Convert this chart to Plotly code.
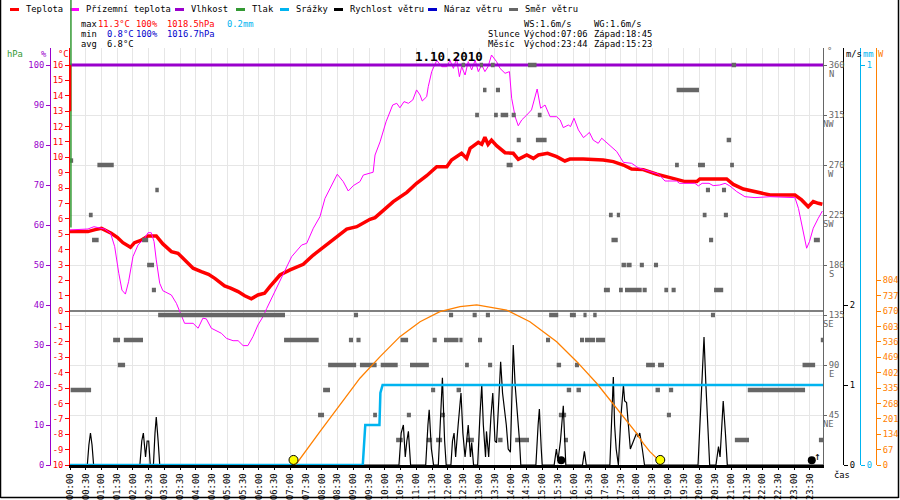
import plotly.graph_objects as go

# ---------------- data (hours of the day / values) ----------------
temp_hours = [0.0, 0.57, 0.8, 1.0, 1.31, 1.5, 1.68, 1.92, 2.05, 2.25, 2.48, 2.74, 2.95, 3.22, 3.43, 3.64,
              3.91, 4.17, 4.4, 4.6, 4.91, 5.1, 5.34, 5.55, 5.76, 5.97, 6.18, 6.35, 6.67, 6.99, 7.41, 7.73,
              8.15, 8.58, 8.79, 9.11, 9.53, 9.69, 9.95, 10.27, 10.7, 11.01, 11.33, 11.65, 11.97, 12.12,
              12.44, 12.6, 12.71, 12.97, 13.08, 13.18, 13.28, 13.39, 13.55, 13.82, 14.08, 14.24, 14.51,
              14.72, 14.88, 15.17, 15.46, 15.72, 15.88, 16.3, 16.94, 17.26, 17.58, 17.84, 18.21, 18.64,
              19.06, 19.27, 19.54, 19.91, 20.01, 20.86, 21.07, 21.39, 21.81, 22.24, 23.03, 23.24, 23.45,
              23.61, 23.77, 23.9]
temp_values = [5.17, 5.17, 5.3, 5.38, 5.06, 4.8, 4.45, 4.15, 4.45, 4.6, 4.89, 4.89, 4.37, 3.87, 3.76, 3.33,
               2.79, 2.57, 2.4, 2.13, 1.64, 1.5, 1.27, 1.0, 0.8, 1.05, 1.16, 1.59, 2.35, 2.68, 3.04, 3.65,
               4.3, 4.95, 5.34, 5.49, 5.97, 6.08, 6.58, 7.12, 7.72, 8.31, 8.8, 9.39, 9.39, 9.83,
               10.26, 9.93, 10.58, 10.97, 10.84, 11.3, 10.84, 11.12, 10.76, 10.3, 10.26, 9.87, 10.15,
               9.93, 10.15, 10.26, 10.04, 9.76, 9.89, 9.89, 9.83, 9.72, 9.5, 9.24, 9.2, 8.9,
               8.68, 8.57, 8.42, 8.42, 8.59, 8.59, 8.24, 7.94, 7.77, 7.55, 7.55, 7.23, 6.79,
               7.12, 7.01, 6.95]

ground_hours = [0.0, 0.57, 0.76, 1.1, 1.29, 1.42, 1.55, 1.65, 1.76, 1.86, 2.0, 2.16, 2.37, 2.48, 2.58,
                2.67, 2.74, 2.85, 2.95, 3.22, 3.38, 3.52, 3.64, 3.91, 4.07, 4.22, 4.33, 4.49, 4.81, 4.97,
                5.18, 5.34, 5.5, 5.65, 5.81, 5.97, 6.13, 6.25, 6.67, 7.04, 7.36, 7.52, 7.73, 7.94, 8.1,
                8.26, 8.49, 8.68, 8.84, 9.0, 9.21, 9.32, 9.63, 9.69, 9.85, 10.04, 10.25, 10.38, 10.48, 10.61,
                10.75, 10.89, 11.01, 11.12, 11.19, 11.33, 11.38, 11.49, 11.65, 11.81, 11.97, 12.07, 12.18,
                12.28, 12.37, 12.44, 12.55, 12.65, 12.76, 12.87, 12.97, 13.08, 13.18, 13.28, 13.39, 13.55,
                13.66, 13.82, 13.96, 14.03, 14.14, 14.24, 14.35, 14.51, 14.66, 14.84, 14.95, 15.09, 15.25,
                15.46, 15.57, 15.67, 15.83, 15.9, 16.01, 16.15, 16.31, 16.41, 16.5, 16.62, 16.78, 16.89,
                17.15, 17.37, 17.58, 17.84, 18.05, 18.42, 18.7, 18.9, 19.27, 19.36, 19.85, 19.96, 20.08,
                20.3, 20.43, 20.64, 20.81, 20.96, 21.18, 21.44, 21.76, 22.24, 23.03, 23.14, 23.27, 23.4,
                23.49, 23.61, 23.77, 23.9]
ground_values = [5.28, 5.34, 5.49, 5.34, 5.06, 4.19, 2.46, 1.37, 1.11, 1.91, 3.54, 4.3, 4.73, 5.1, 5.1,
                 4.52, 3.33, 1.81, 1.33, 1.05, 0.51, -0.14, -0.79, -0.79, -1.11, -0.46, -0.5, -1.11, -1.44, -1.77,
                 -1.92, -1.92, -2.24, -2.24, -1.66, -0.9, -0.36, 0.18, 1.91, 3.54, 4.3, 4.41, 5.39, 6.14, 7.33,
                 7.99, 8.9, 8.42, 7.81, 8.16, 8.42, 8.85, 9.03, 10.15, 11.01, 12.31, 13.4, 13.51, 13.22, 13.62,
                 13.51, 13.73, 14.38, 14.05, 13.66, 13.94, 14.59, 15.57, 16.3, 15.89, 15.89, 16.3, 15.78,
                 16.43, 15.24, 15.89, 15.35, 16.22, 15.68, 16.32, 15.57, 16.0, 15.57, 15.89, 16.65, 16.22,
                 15.78, 15.46, 15.57, 13.84, 12.64, 12.05, 12.43, 12.75, 13.08, 14.44, 13.19, 13.4, 12.64,
                 12.64, 12.43, 11.93, 12.1, 12.0, 12.54, 11.78, 11.28, 11.45, 11.62, 11.12, 10.91, 11.24,
                 10.8, 10.37, 9.67, 9.61, 9.32, 9.09, 8.9, 8.46, 8.46, 8.31, 8.31, 8.14, 8.31,
                 8.31, 8.16, 8.2, 8.31, 8.14, 7.77, 7.44, 7.38, 7.44, 7.38, 6.68, 5.39, 4.09,
                 4.52, 5.39, 6.04, 6.51]

humidity_hours = [0.0, 23.92]
humidity_values = [100, 100]

precip_hours = [0.0, 9.30, 9.38, 9.83, 9.86, 9.93, 23.92]
precip_values = [0.0, 0.0, 0.1, 0.1, 0.18, 0.2, 0.2]

wind_hours = [0.0, 0.55, 0.6, 0.65, 0.7, 0.75,
              2.22, 2.28, 2.33, 2.4, 2.45, 2.5, 2.55, 2.65, 2.7, 2.74, 2.8, 2.85,
              10.45, 10.52, 10.59, 10.65, 10.7, 10.75, 10.82,
              11.3, 11.37, 11.41, 11.48, 11.55, 11.7, 11.78, 11.83, 11.9, 11.95,
              12.1, 12.15, 12.2, 12.25, 12.33, 12.42, 12.48, 12.55, 12.6, 12.65, 12.72, 12.76, 12.82,
              12.95, 13.02, 13.08, 13.13, 13.2, 13.23, 13.3, 13.37, 13.43, 13.5, 13.55, 13.62, 13.68,
              13.74, 13.79, 13.86, 13.92, 13.99, 14.04, 14.08, 14.14, 14.22, 14.28, 14.32, 14.8, 14.87,
              14.91, 14.97, 15.0,
              15.38, 15.45, 15.5, 15.58, 15.67, 15.7, 15.75, 16.28, 16.34, 16.4,
              17.15, 17.22, 17.26, 17.3, 17.35, 17.42, 17.5, 17.58, 17.62, 17.68, 17.75, 17.8, 17.9,
              18.0, 18.05, 18.1, 18.18, 18.25,
              19.95, 20.05, 20.14, 20.2, 20.27, 20.32, 20.52, 20.6, 20.65, 20.7, 20.75, 20.82, 20.88, 23.92]
wind_speed = [0, 0, 0.25, 0.4, 0.25, 0,
              0, 0.3, 0.4, 0.1, 0.3, 0.3, 0, 0, 0.4, 0.6, 0.3, 0,
              0, 0.4, 0.5, 0.1, 0.3, 0.42, 0,
              0, 0.5, 0.69, 0.2, 0, 0, 0.6, 1.09, 0.3, 0,
              0, 0.3, 0.4, 0.1, 0.5, 0.9, 0.4, 0.1, 0.3, 0.5, 0.1, 0.28, 0,
              0, 0.6, 1.0, 0.5, 0.1, 0.42, 0.1, 0.6, 0.9, 0.3, 0.28, 0.8, 1.29,
              0.9, 0.74, 0.5, 0.2, 0.16, 0.9, 1.5, 1.0, 0.65, 0.3, 0, 0, 0.5,
              0.7, 0.2, 0,
              0, 0.2, 0.05, 0.3, 0.74, 0.5, 0, 0, 0.17, 0,
              0, 0.7, 1.1, 0.5, 0.2, 0, 0.6, 1.0, 0.8, 0.78, 0.4, 0.2, 0.3,
              0.4, 0.35, 0.4, 0.2, 0,
              0, 0.8, 1.6, 1.0, 0.3, 0, 0, 0.23, 0.1, 0.5, 0.8, 0.4, 0, 0]

sun_hours = [7.1, 7.2, 7.94, 8.58, 9.21, 9.85, 10.48, 11.12, 11.75, 12.39, 12.92, 13.87, 14.61, 15.46,
             16.1, 16.73, 17.37, 18.0, 18.21, 18.42, 18.64, 18.75]
sun_watts = [0, 7, 145, 261, 378, 472, 559, 624, 668, 690, 697, 675, 624, 537,
             450, 356, 247, 138, 94, 58, 29, 0]

dir_start = [0.0, 0.02, 0.6, 0.7, 0.87, 1.37, 1.52, 1.71, 2.29, 2.45, 2.6, 2.71, 2.8,
             6.8, 7.88, 8.04, 8.2, 8.86, 9.02, 9.1, 9.21, 9.63, 9.87, 10.36, 10.5, 10.7, 10.8, 11.33,
             11.47, 11.52, 11.63, 11.79, 11.88, 12.04, 12.37,
             12.28, 12.44, 12.55, 12.6, 12.79, 12.87, 12.96, 13.02, 13.12, 13.21, 13.28, 13.37, 13.47,
             13.53, 13.6, 13.68, 13.87, 14.03, 14.14, 14.19, 14.55, 14.8, 14.86, 15.12, 15.22, 15.46,
             15.53, 15.69, 15.78, 15.88, 16.04, 16.09, 16.2, 16.31, 16.36, 16.62, 16.71, 16.96, 17.12,
             17.2, 17.37, 17.44, 17.52, 17.63, 17.68, 18.1, 18.19, 18.3, 18.55, 18.6, 18.68, 18.88,
             18.96, 19.03, 19.11, 19.22, 19.27, 19.95, 20.1, 20.2, 20.3, 20.36, 20.46, 20.71, 20.77,
             20.86, 20.97, 21.02, 21.12, 21.53, 23.27, 23.63, 23.79, 23.85]
dir_end = [0.1, 0.67, 0.72, 0.91, 1.39, 1.59, 1.75, 2.32, 2.48, 2.67, 2.73, 2.82, 6.83,
           7.9, 8.07, 8.26, 9.09, 8.99, 9.15, 9.23, 9.74, 9.75, 10.41, 10.57, 10.74, 10.83, 11.4, 11.49,
           11.6, 11.65, 11.82, 11.91, 12.34, 12.17, 12.47,
           12.42, 12.55, 12.67, 12.83, 12.92, 12.99, 13.09, 13.12, 13.23, 13.34, 13.41, 13.49, 13.59,
           13.66, 13.74, 13.92, 14.06, 14.16, 14.58, 14.32, 14.82, 15.14, 14.98, 15.25, 15.51, 15.6,
           15.76, 15.82, 15.92, 16.07, 16.17, 16.23, 16.33, 16.41, 16.68, 16.73, 17.0, 17.15, 17.24,
           17.4, 17.47, 17.56, 17.66, 18.16, 17.84, 18.23, 18.32, 18.58, 18.68, 18.74, 18.87, 19.0,
           19.09, 19.16, 19.24, 19.34, 19.98, 20.17, 20.22, 20.33, 20.43, 20.49, 20.75, 20.84, 20.9,
           21.0, 21.09, 21.16, 21.57, 23.35, 23.67, 23.82, 23.93, 23.98]
dir_deg = [274, 67.5, 225, 202.5, 270, 112.5, 90, 112.5, 202.5, 180, 157.5, 247.5, 135,
           112.5, 45, 67.5, 90, 112.5, 135, 112.5, 90, 45, 90, 22.5, 112.5, 45, 90, 22.5,
           67.5, 112.5, 22.5, 45, 112.5, 135, 112.5,
           67.5, 360, 90, 22.5, 135, 315, 112.5, 360, 337.5, 135, 90, 360, 315,
           337.5, 22.5, 315, 270, 315, 22.5, 292.5, 360, 292.5, 315, 112.5, 135, 90,
           45, 22.5, 67.5, 135, 90, 67.5, 112.5, 135, 112.5, 135, 112.5, 157.5, 225,
           202.5, 225, 157.5, 180, 157.5, 180, 180, 157.5, 90, 180, 67.5, 90, 157.5,
           45, 67.5, 157.5, 270, 337.5, 270, 225, 247.5, 202.5, 135, 157.5, 247.5, 225,
           292.5, 270, 360, 22.5, 67.5, 90, 202.5, 22.5, 112.5]

sunrise_h, sunset_h = 7 + 6 / 60, 18 + 45 / 60
moonrise_h, moonset_h = 23 + 44 / 60, 15 + 23 / 60
pressure_max = 1018.5

time_ticks = [i * 0.5 for i in range(48)]
time_labels = [f"{int(t):02d}:{int(round((t % 1) * 60)):02d}" for t in time_ticks]
temp_ticks = list(range(-10, 17))
hum_ticks = list(range(0, 101, 10))
pres_ticks = list(range(1009, 1026))
dir_ticks = [45, 90, 135, 180, 225, 270, 315, 360]
dir_names = ["NE", "E", "SE", "S", "SW", "W", "NW", "N"]
wind_ticks = [0, 1, 2]
mm_ticks = [0, 1]
sol_ticks = [67 * k for k in range(13)]

legend_names = ["Teplota", "Přízemní teplota", "Vlhkost", "Tlak", "Srážky",
                "Rychlost větru", "Náraz větru", "Směr větru"]

assert len(temp_hours) == len(temp_values)
assert len(ground_hours) == len(ground_values)
assert len(wind_hours) == len(wind_speed)
assert len(sun_hours) == len(sun_watts)
assert len(dir_start) == len(dir_end) == len(dir_deg)

# ---------------- styles / layout ----------------
RED, MAG, PUR, GRN = "#ff0000", "#ff00ff", "#9900cc", "#339933"
CYAN, BLK, NAVY, GRY, ORA = "#00b4f0", "#000000", "#0000cc", "#666666", "#ff8000"
MONO = "DejaVu Sans Mono"
FS = 8.8

FIG_W, FIG_H = 900, 500
PL, PR, PT, PB = 70, 823, 48, 465
REF_TOP = 65
PX_PER_HOUR = 31.48


def rng(lo, hi):
    return [lo, lo + (hi - lo) * (PB - PT) / (PB - REF_TOP)]


def px(x):
    return x / FIG_W


def py(y):
    return (PB - y) / (PB - PT)


fig = go.Figure()

fig.add_trace(go.Scatter(x=temp_hours, y=temp_values, yaxis="y", mode="lines",
                         line=dict(color=RED, width=3.5), hoverinfo="skip"))
fig.add_trace(go.Scatter(x=ground_hours, y=ground_values, yaxis="y", mode="lines",
                         line=dict(color=MAG, width=1), hoverinfo="skip"))
fig.add_trace(go.Scatter(x=humidity_hours, y=humidity_values, yaxis="y2", mode="lines",
                         line=dict(color=PUR, width=3), hoverinfo="skip"))
dx, dy = [], []
for s, e, d in zip(dir_start, dir_end, dir_deg):
    dx += [s, e, None]
    dy += [d, d, None]
fig.add_trace(go.Scatter(x=dx, y=dy, yaxis="y4", mode="lines",
                         line=dict(color=GRY, width=4.5), hoverinfo="skip"))
fig.add_trace(go.Scatter(x=wind_hours, y=wind_speed, yaxis="y5", mode="lines",
                         line=dict(color=BLK, width=1.2), hoverinfo="skip"))
fig.add_trace(go.Scatter(x=[moonset_h + 0.22, moonrise_h - 0.17], y=[0.06, 0.06], yaxis="y5",
                         mode="markers", cliponaxis=False,
                         marker=dict(color=BLK, size=8, symbol="circle"), hoverinfo="skip"))
fig.add_trace(go.Scatter(x=precip_hours, y=precip_values, yaxis="y6", mode="lines",
                         line=dict(color=CYAN, width=2.5), hoverinfo="skip"))
fig.add_trace(go.Scatter(x=sun_hours, y=sun_watts, yaxis="y7", mode="lines",
                         line=dict(color=ORA, width=1.3), hoverinfo="skip"))
fig.add_trace(go.Scatter(x=[sunrise_h, sunset_h], y=[22, 22], yaxis="y7", mode="markers",
                         cliponaxis=False,
                         marker=dict(color="#ffff00", size=9, line=dict(color=BLK, width=1)),
                         hoverinfo="skip"))


def yax(color, r, ticks, text=None, **kw):
    d = dict(range=r, tickvals=ticks, ticktext=text if text else [str(t) for t in ticks],
             showgrid=False, zeroline=False, showline=True, linecolor=color, linewidth=1,
             ticks="outside", ticklen=4, tickcolor=color, automargin=False,
             tickfont=dict(family=MONO, size=FS, color=color))
    d.update(kw)
    return d


layout_axes = dict(
    xaxis=dict(domain=[px(PL), px(PR)], range=[0, (PR - PL) / PX_PER_HOUR],
               tickvals=time_ticks, ticktext=time_labels, tickangle=-90,
               tickfont=dict(family=MONO, size=FS, color=BLK),
               showgrid=True, gridcolor="#e6e6e6", gridwidth=1, zeroline=False,
               showline=True, linecolor=BLK, linewidth=3, ticks="outside", ticklen=2,
               tickcolor=BLK, automargin=False),
    yaxis=yax(RED, rng(-10, 16), temp_ticks, anchor="x", side="left",
              zeroline=True, zerolinecolor="#808080", zerolinewidth=1.5),
    yaxis2=yax(PUR, rng(0, 100), hum_ticks, overlaying="y", anchor="free",
               position=px(50), side="left"),
    yaxis3=yax(GRN, rng(1009, 1025), pres_ticks, overlaying="y", anchor="free",
               position=px(28), side="left"),
    yaxis4=yax(GRY, rng(0, 360), dir_ticks, overlaying="y", anchor="x", side="right",
               showgrid=True, gridcolor="#e6e6e6", ticklen=3),
    yaxis5=yax(BLK, rng(0, 5), wind_ticks, overlaying="y", anchor="free",
               position=px(843), side="right"),
    yaxis6=yax(CYAN, rng(0, 1), mm_ticks, overlaying="y", anchor="free",
               position=px(860), side="right"),
    yaxis7=yax(ORA, rng(0, 26 * 67), sol_ticks, overlaying="y", anchor="free",
               position=px(876), side="right"),
)

annotations = []
shapes = []


def text(t, x, y, color=BLK, anchor="left", size=FS, bold=False):
    annotations.append(dict(text=f"<b>{t}</b>" if bold else t, x=px(x), y=py(y),
                            xref="paper", yref="paper", xanchor=anchor, yanchor="middle",
                            showarrow=False, font=dict(family=MONO, size=size, color=color)))


# legend
leg_colors = [RED, MAG, PUR, GRN, CYAN, BLK, NAVY, GRY]
leg_text_x = [24, 84, 189, 250, 294, 348, 442, 523]
for name, col, xt in zip(legend_names, leg_colors, leg_text_x):
    shapes.append(dict(type="line", xref="paper", yref="paper", x0=px(xt - 14), x1=px(xt - 5),
                       y0=py(9.5), y1=py(9.5), line=dict(color=col, width=3)))
    text(name, xt, 9.5)

# stats block
text("max", 79, 24)
text("11.3°C", 96, 24, RED)
text("100%", 134, 24, RED)
text("1018.5hPa", 165, 24, RED)
text("0.2mm", 225, 24, CYAN)
text("min", 79, 34)
text("0.8°C", 105, 34, NAVY)
text("100%", 134, 34, NAVY)
text("1016.7hPa", 165, 34, NAVY)
text("avg", 79, 44)
text("6.8°C", 105, 44)

text("WS:1.6m/s", 522, 24)
text("WG:1.6m/s", 592, 24)
text("Slunce", 486, 34)
text("Východ:07:06", 522, 34)
text("Západ:18:45", 592, 34)
text("Měsíc", 486, 44)
text("Východ:23:44", 522, 44)
text("Západ:15:23", 592, 44)

# axis headers
text("hPa", 5, 54, GRN)
text("%", 39, 54, PUR)
text("°C", 56, 54, RED)
text("°", 825, 51, GRY)
text("m/s", 844, 54, BLK)
text("mm", 861, 54, CYAN)
text("W", 876, 54, ORA)
text("čas", 832, 475, BLK)

# date title
text("1.10.2010", 449, 57, BLK, anchor="center", size=12.5, bold=True)

# compass letters under direction ticks
for deg, nm in zip(dir_ticks, dir_names):
    annotations.append(dict(text=nm, x=px(836), y=deg, xref="paper", yref="y4",
                            xanchor="right", yanchor="middle", yshift=-9, showarrow=False,
                            font=dict(family=MONO, size=FS, color=GRY)))

# moonrise arrow
annotations.append(dict(text="↑", x=moonrise_h, y=0, xref="x", yref="y5", xanchor="center",
                        yanchor="bottom", showarrow=False,
                        font=dict(family=MONO, size=11, color=BLK)))

# pressure / temperature artifacts at the start of the day
p_lo, p_hi = rng(1009, 1025)
shapes.append(dict(type="line", xref="x", yref="paper", x0=0.03, x1=0.03,
                   y0=(pressure_max - p_lo) / (p_hi - p_lo), y1=py(0),
                   line=dict(color=GRN, width=1.5), layer="above"))
shapes.append(dict(type="line", xref="x", yref="y", x0=0.0, x1=0.0, y0=13, y1=16,
                   line=dict(color=RED, width=2.5), layer="above"))

# outer frame (left, bottom, right)
for x0, y0, x1, y1 in [(0.5, 0, 0.5, 498), (0.5, 497.5, 898.5, 497.5), (898.5, 0, 898.5, 498)]:
    shapes.append(dict(type="line", xref="paper", yref="paper", x0=px(x0), x1=px(x1),
                       y0=py(y0), y1=py(y1), line=dict(color=BLK, width=1.5)))

fig.update_layout(
    width=FIG_W, height=FIG_H,
    margin=dict(l=0, r=0, t=PT, b=FIG_H - PB, pad=0),
    paper_bgcolor="white", plot_bgcolor="white",
    showlegend=False,
    annotations=annotations, shapes=shapes,
    **layout_axes,
)

fig.write_html("out.html", config={"displayModeBar": False},
               post_script="document.body.style.margin='0px';document.body.style.overflow='hidden';")
